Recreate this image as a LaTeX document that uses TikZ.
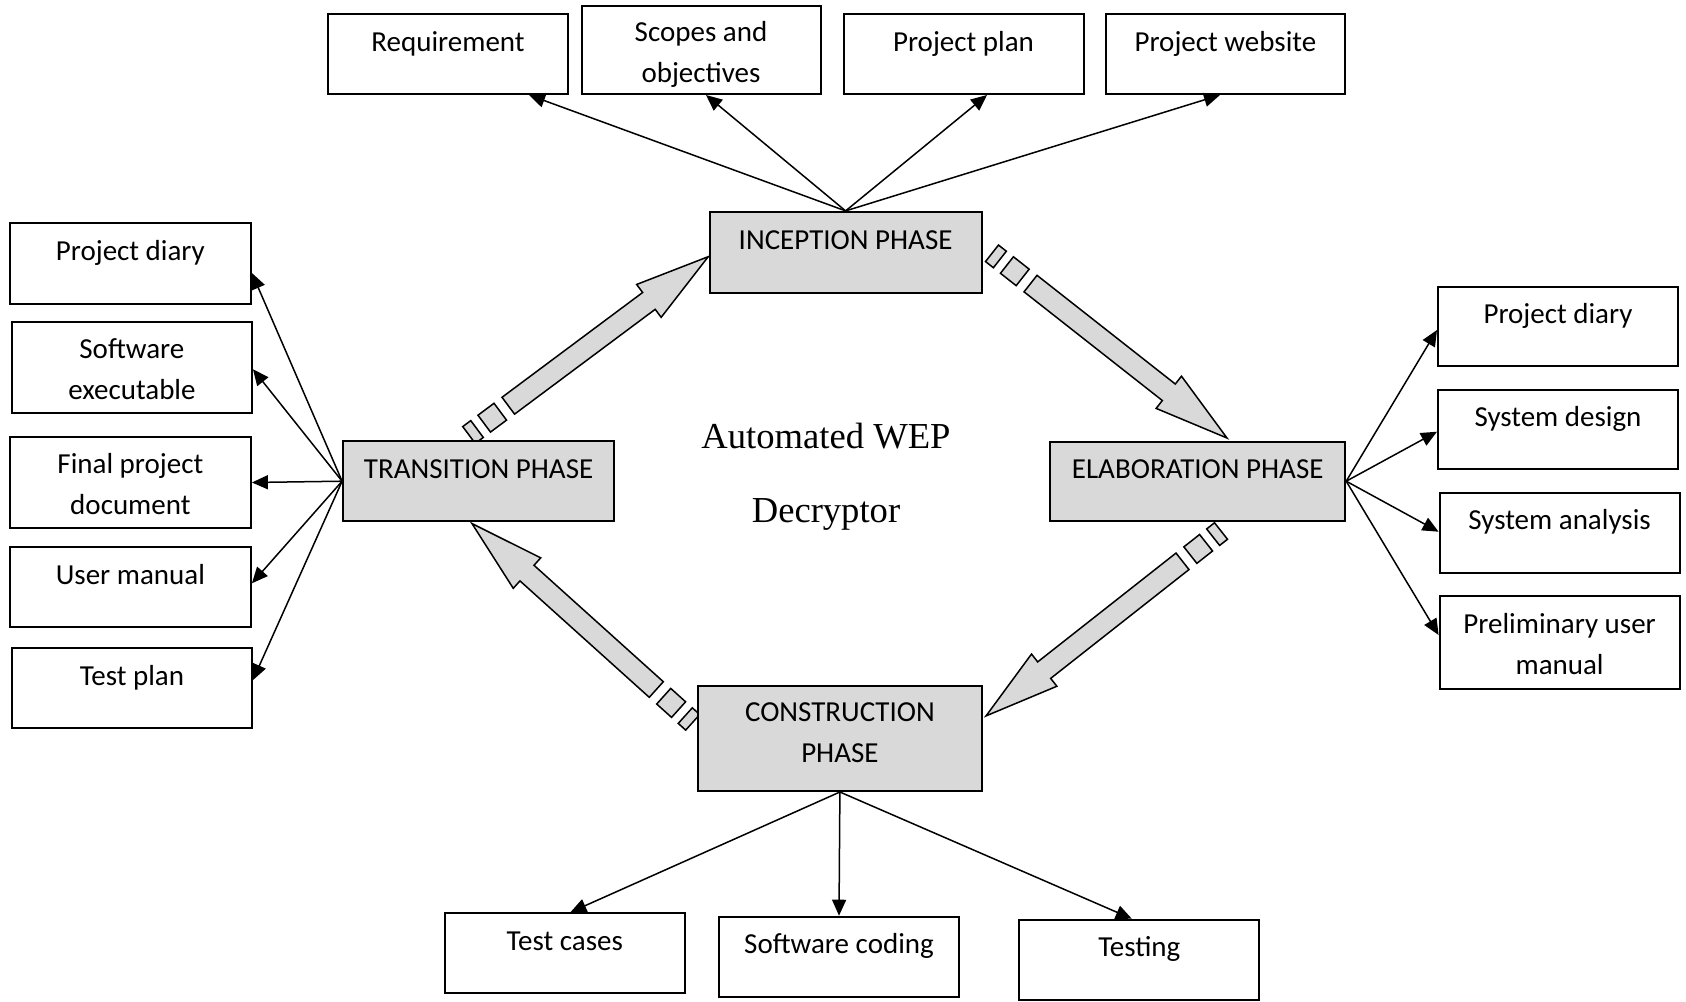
\documentclass[tikz,border=0pt]{standalone}
\usepackage{fontspec}
\setmainfont{Carlito}
\newfontfamily\timesf{Liberation Serif}
\usetikzlibrary{arrows.meta,calc}
\definecolor{phasegray}{HTML}{D9D9D9}
\newcommand\boxfont{\fontsize{14.5pt}{20.5pt}\selectfont}
% two-line text with fixed first-line height (#1) and last-line depth (#2)
\newcommand\twol[4]{\rule{0pt}{#1}#3\\#4\rule[-#2]{0pt}{#2}}
\newcommand\bigarr[3]{%
  \begin{scope}[shift={(#1)},rotate=#2]
    \draw[bigarrow] (0,-10.5) rectangle (10,10.5);
    \draw[bigarrow] (19,-10.5) rectangle (39,10.5);
    \draw[bigarrow] (49,-10.5) -- ({#3-74},-10.5) -- ({#3-74},-20.5) -- (#3,0)
      -- ({#3-74},20.5) -- ({#3-74},10.5) -- (49,10.5) -- cycle;
  \end{scope}}
\tikzset{
  box/.style={draw, line width=1pt, inner sep=0pt, align=center, font=\boxfont},
  one/.style={text height=10pt, text depth=13pt},
  phase/.style={box, fill=phasegray},
  sz/.style 2 args={minimum width=#1*0.5pt, minimum height=#2*0.5pt},
  conn/.style={line width=0.75pt, -{Triangle[length=8pt,width=7pt]}},
  bigarrow/.style={draw, line width=0.75pt, fill=phasegray, line join=miter},
}
\begin{document}
\begin{tikzpicture}[x=0.5pt,y=-0.5pt]
\path[fill=white,use as bounding box] (0,0) rectangle (1686,1001);

% big arrows (drawn first)
\coordinate (a1s) at (992,253.3);
\coordinate (a2s) at (1221,531);
\coordinate (a3s) at (692.7,722.3);
\coordinate (a4s) at (469,435);
\bigarr{a1s}{-38.17}{298.9}
\bigarr{a2s}{-141.8}{299}
\bigarr{a3s}{138.0}{297}
\bigarr{a4s}{36.7}{298.4}

% top row
\node[box,one,sz={240}{80}] (req) at (448,54) {Requirement};
\node[box,sz={239}{88}] (scope) at (701,50) {\twol{15.5pt}{4pt}{Scopes and}{objectives}};
\node[box,one,sz={240}{80}] (pplan) at (963.5,54) {Project plan};
\node[box,one,sz={239}{80}] (pweb) at (1225.4,54) {Project website};
\node[phase,one,sz={272}{81}] (incep) at (845.6,252.4) {INCEPTION PHASE};

% left column
\node[box,one,sz={241}{81}] (ldiary) at (130.4,263.5) {Project diary};
\node[box,sz={240}{91}] (lsoft) at (131.9,367.2) {\twol{15.5pt}{4pt}{Software}{executable}};
\node[box,sz={241}{91.5}] (lfinal) at (130.4,482.5) {\twol{15.5pt}{4pt}{Final project}{document}};
\node[box,one,sz={241}{80}] (luser) at (130.4,587.3) {User manual};
\node[box,one,sz={239.5}{80}] (ltest) at (132,688.3) {Test plan};
\node[phase,one,sz={271}{79.5}] (trans) at (478.6,481.2) {TRANSITION PHASE};

% right column
\node[phase,one,sz={295}{79}] (elab) at (1197.7,481.2) {ELABORATION PHASE};
\node[box,one,sz={240}{79.5}] (rdiary) at (1558,326.3) {Project diary};
\node[box,one,sz={240}{79.5}] (rdesign) at (1558,429.7) {System design};
\node[box,one,sz={240}{80}] (ranal) at (1559.6,532.7) {System analysis};
\node[box,sz={240}{93.3}] (rprelim) at (1559.6,642.7) {\twol{15.5pt}{4pt}{Preliminary user}{manual}};

% bottom
\node[phase,sz={284}{105}] (constr) at (839.9,738.5) {\twol{9.5pt}{6pt}{CONSTRUCTION}{PHASE}};
\node[box,one,sz={239.5}{79.5}] (tcases) at (564.8,953) {Test cases};
\node[box,one,sz={239.5}{80}] (scoding) at (839,956.7) {Software coding};
\node[box,one,sz={240}{80}] (testing) at (1139.3,959.7) {Testing};

% centre title
\node[font=\timesf\fontsize{18.3pt}{37pt}\selectfont, align=center] (title) at (826,477) {Automated WEP\\Decryptor};

% connectors
\draw[conn] (incep.north) -- ($(req.south)+(81,0)$);
\draw[conn] (incep.north) -- ($(scope.south)+(5,0)$);
\draw[conn] (incep.north) -- ($(pplan.south)+(23.5,0)$);
\draw[conn] (incep.north) -- ($(pweb.south)+(-5.4,0)$);

\draw[conn] (trans.west) -- ($(ldiary.east)+(0,9.5)$);
\draw[conn] (trans.west) -- ($(lsoft.east)+(0,2)$);
\draw[conn] (trans.west) -- (lfinal.east);
\draw[conn] (trans.west) -- ($(luser.east)+(0,-4)$);
\draw[conn] (trans.west) -- ($(ltest.east)+(0,-8)$);

\draw[conn] (elab.east) -- ($(rdiary.west)+(0,3.7)$);
\draw[conn] (elab.east) -- ($(rdesign.west)+(0,2)$);
\draw[conn] (elab.east) -- ($(ranal.west)+(0,-1)$);
\draw[conn] (elab.east) -- ($(rprelim.west)+(0,-7.7)$);

\draw[conn] (constr.south) -- ($(tcases.north)+(5.6,0)$);
\draw[conn] (constr.south) -- (scoding.north);
\draw[conn] (constr.south) -- ($(testing.north)+(-7.5,0)$);
\end{tikzpicture}
\end{document}
